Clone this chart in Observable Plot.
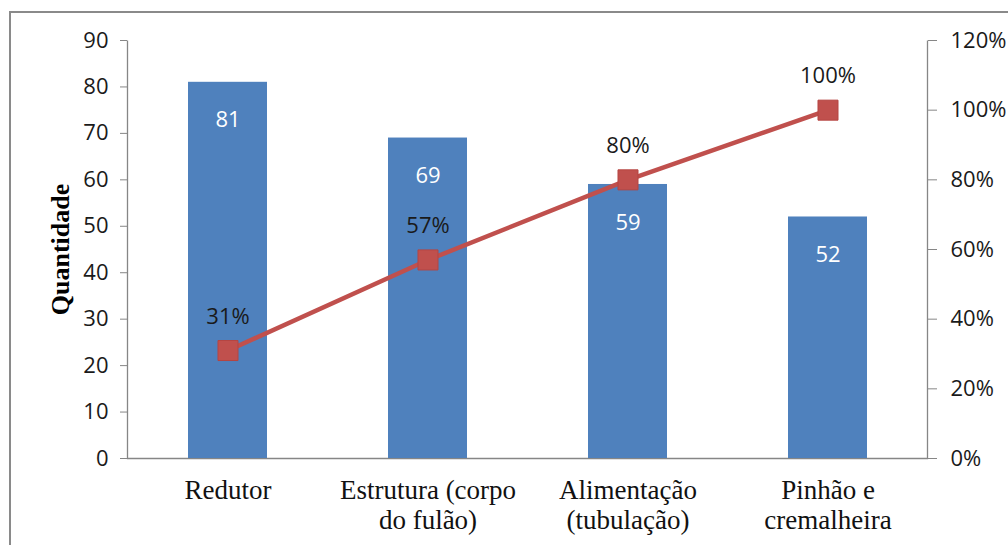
<!DOCTYPE html>
<html>
<head>
<meta charset="utf-8">
<script src="https://cdn.jsdelivr.net/npm/d3@7"></script>
<script src="https://cdn.jsdelivr.net/npm/@observablehq/plot@0.6"></script>
<style>
  html, body { margin: 0; padding: 0; background: #fff; overflow: hidden; }
  #wrap { position: relative; width: 1008px; height: 545px; overflow: hidden; }
  #border { position: absolute; left: 9px; top: 11px; width: 1100px; height: 700px; border: 2px solid #8a8a8a; box-sizing: border-box; }
  #chart { position: absolute; left: 0; top: 0; }
</style>
</head>
<body>
<div id="wrap"><div id="border"></div><div id="chart"></div></div>
<script>
const categories = ["Redutor", "Estrutura (corpo\ndo fulão)", "Alimentação\n(tubulação)", "Pinhão e\ncremalheira"];
const quantities = [81, 69, 59, 52];
const cumulativePct = [0.31, 0.57, 0.80, 1.00];
const leftTicks = [0, 10, 20, 30, 40, 50, 60, 70, 80, 90];
const rightTicks = [0, 0.2, 0.4, 0.6, 0.8, 1.0, 1.2];

const yMax = 90, pctMax = 1.2;
const toY = p => p * yMax / pctMax;

const data = categories.map((c, i) => ({c, q: quantities[i], p: cumulativePct[i], py: toY(cumulativePct[i])}));

const sans = "'Open Sans', sans-serif";
const serif = "'Liberation Serif', 'Times New Roman', serif";
const axisColor = "#868686";

const plot = Plot.plot({
  width: 1008,
  height: 545,
  marginLeft: 127,
  marginRight: 81,
  marginTop: 40,
  marginBottom: 87,
  style: {background: "transparent", overflow: "visible"},
  x: {domain: categories, paddingInner: 0.605, paddingOuter: 0.3025},
  y: {domain: [0, yMax]},
  marks: [
    Plot.frame({stroke: axisColor, strokeWidth: 1.3, strokeDasharray: "0,800,1636"}),
    Plot.barY(data, {x: "c", y: "q", fill: "#4F81BD"}),
    Plot.line(data, {x: "c", y: "py", stroke: "#C0504D", strokeWidth: 4.5}),
    Plot.dot(data, {x: "c", y: "py", symbol: "square", r: 11.3, fill: "#C0504D", stroke: "#B54542", strokeWidth: 1}),
    Plot.text(data, {x: "c", y: "q", text: d => String(d.q), dy: 38, fill: "white", fontSize: 22, fontFamily: sans}),
    Plot.text(data, {x: "c", y: "py", text: d => Math.round(d.p * 100) + "%", dy: -34, fill: "#1a1a1a", fontSize: 22, fontFamily: sans}),
    Plot.axisY(leftTicks, {anchor: "left", tickSize: 7, tickPadding: 12, stroke: axisColor, fill: "#1a1a1a", fontSize: 22, fontFamily: sans, label: null}),
    Plot.axisY(rightTicks.map(toY), {anchor: "right", tickSize: 9, tickPadding: 14, stroke: axisColor, fill: "#1a1a1a", fontSize: 22, fontFamily: sans, label: null, tickFormat: d => Math.round(d / yMax * pctMax * 100) + "%"}),
    Plot.axisX({anchor: "bottom", tickSize: 0, tickPadding: 19, fill: "#111", fontSize: 27, fontFamily: serif, lineHeight: 1.12, label: null}),
    Plot.text(["Quantidade"], {frameAnchor: "left", dx: -67, rotate: -90, textAnchor: "middle", fontSize: 26, fontWeight: "bold", fontFamily: serif, fill: "#000", letterSpacing: 1.8})
  ]
});
document.getElementById("chart").appendChild(plot);
</script>
</body>
</html>
